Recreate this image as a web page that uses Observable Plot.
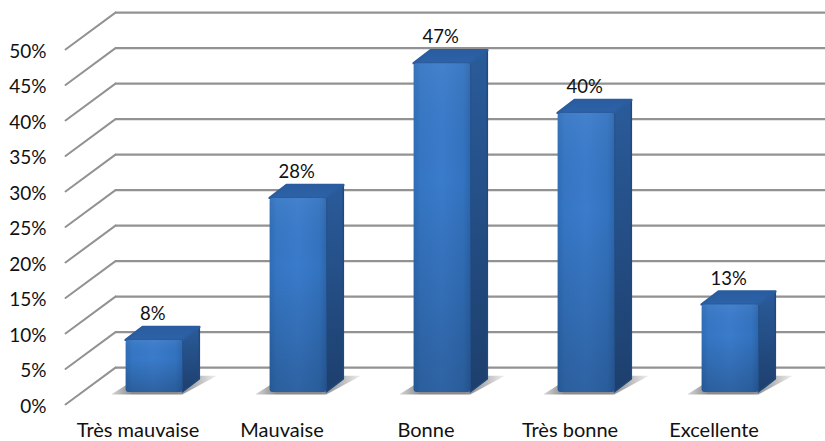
<!DOCTYPE html>
<html lang="fr">
<head>
<meta charset="utf-8">
<script src="https://cdn.jsdelivr.net/npm/d3@7"></script>
<script src="https://cdn.jsdelivr.net/npm/@observablehq/plot@0.6"></script>
<style>
html,body{margin:0;padding:0;background:#fff;overflow:hidden}
svg{display:block}
</style>
</head>
<body>
<div id="chart"></div>
<script>
const categories = ["Très mauvaise", "Mauvaise", "Bonne", "Très bonne", "Excellente"];
const values = [8, 28, 47, 40, 13];
const yTicks = [0, 5, 10, 15, 20, 25, 30, 35, 40, 45, 50];

// 3D projection expressed in scale units (x: category widths, y: percentage points)
const wallDx = 0.347, wallDy = 5.2, xEnd = 5.3;
const barCenter = 0.604, barHalf = 0.197, barDx = 0.118, barDy = 1.83;
const barBase = 1.69, barLift = 1;

const bars = values.map((v, i) => ({
  i, v, cat: categories[i],
  x1: i + barCenter - barHalf,
  x2: i + barCenter + barHalf,
  top: v + barLift
}));

const hLines = yTicks.map(v => ({y: v + wallDy}));
const diagonals = yTicks.flatMap(v => [
  {v, x: -2 / 144, y: v},
  {v, x: -2 / 144 + wallDx, y: v + wallDy}
]);
const sides = bars.flatMap(b => [
  {i: b.i, x: b.x2, y1: barBase, y2: b.top},
  {i: b.i, x: b.x2 + barDx, y1: barBase + barDy, y2: b.top + barDy}
]);
const tops = bars.flatMap(b => [
  {i: b.i, x: b.x1, y1: b.top, y2: b.top},
  {i: b.i, x: b.x1 + barDx, y1: b.top, y2: b.top + barDy},
  {i: b.i, x: b.x2, y1: b.top, y2: b.top + barDy},
  {i: b.i, x: b.x2 + barDx, y1: b.top + barDy, y2: b.top + barDy}
]);
const shadows = bars.flatMap(b => [
  {i: b.i, x: b.x1 - 0.1, y1: barBase - 0.35, y2: barBase - 0.35},
  {i: b.i, x: b.x1 + 0.02, y1: barBase - 0.35, y2: barBase + 1.2},
  {i: b.i, x: b.x2, y1: barBase - 0.35, y2: barBase + 2.3},
  {i: b.i, x: b.x2 + 0.24, y1: barBase + 2.3, y2: barBase + 2.3}
]);

const defs = () => {
  const s = d3.create("svg:defs");
  const grad = (id, x2, y2, stops) => {
    const g = s.append("linearGradient").attr("id", id)
      .attr("x1", 0).attr("y1", 0).attr("x2", x2).attr("y2", y2);
    stops.forEach(([o, c, a]) => g.append("stop").attr("offset", o)
      .attr("stop-color", c).attr("stop-opacity", a ?? 1));
  };
  grad("frontH", 1, 0, [[0, "#2f6cb6"], [0.12, "#3576c4"], [0.5, "#3a7bcb"], [0.88, "#3373c0"], [1, "#2c66ae"]]);
  grad("frontV", 0, 1, [[0, "#ffffff", 0.05], [0.35, "#000000", 0], [1, "#000000", 0.2]]);
  grad("side", 0, 1, [[0, "#2a5b9a"], [1, "#1d3f6d"]]);
  grad("top", 0, 1, [[0, "#2a5c9f"], [1, "#2d63a9"]]);
  grad("shadow", 1, 0, [[0, "#d8d8d8"], [0.2, "#8a8a8a"], [0.62, "#8a8a8a"], [0.8, "#b4b4b4"], [1, "#f2f2f2"]]);
  return s.node();
};

const font = "Lato, 'Open Sans', sans-serif";

const chart = Plot.plot({
  width: 825,
  height: 441,
  marginLeft: 65,
  marginRight: 0,
  marginTop: 0,
  marginBottom: 0,
  style: {background: "#fff", fontFamily: font, overflow: "hidden"},
  x: {type: "linear", domain: [0, 5], range: [67, 787], axis: null},
  y: {domain: [0, 50], range: [404, 49], axis: null},
  marks: [
    defs,
    Plot.ruleY(hLines, {y: "y", x1: -2 / 144 + wallDx, x2: xEnd, stroke: "#929292", strokeWidth: 2.2}),
    Plot.line(diagonals, {x: "x", y: "y", z: "v", stroke: "#929292", strokeWidth: 2}),
    Plot.areaY(shadows, {x: "x", y1: "y1", y2: "y2", z: "i", fill: "url(#shadow)", style: {filter: "blur(2px)"}}),
    Plot.areaY(sides, {x: "x", y1: "y1", y2: "y2", z: "i", fill: "url(#side)", stroke: "#22497d", strokeWidth: 1.5, strokeLinejoin: "round"}),
    Plot.areaY(tops, {x: "x", y1: "y1", y2: "y2", z: "i", fill: "url(#top)", stroke: "#2a5c9f", strokeWidth: 2.5, strokeLinejoin: "round"}),
    Plot.rect(bars, {x1: "x1", x2: "x2", y1: barBase, y2: "top", fill: "url(#frontH)", rx: 3}),
    Plot.rect(bars, {x1: "x1", x2: "x2", y1: barBase, y2: "top", fill: "url(#frontV)", rx: 3}),
    Plot.text(bars, {
      x: d => d.i + barCenter - 0.012,
      y: d => d.top + barDy + 1.85,
      text: d => d.v + "%",
      fontSize: 18.5, fill: "#111"
    }),
    Plot.axisY({
      ticks: yTicks, tickSize: 0, tickPadding: 19, dy: 2, label: null,
      tickFormat: d => d + "%", fontSize: 19, fill: "#111"
    }),
    Plot.text(bars, {
      x: d => d.i + 0.5,
      text: "cat",
      frameAnchor: "bottom", dx: -1.5, dy: -10.5, lineAnchor: "middle",
      fontSize: 20, fill: "#111"
    })
  ]
});
document.getElementById("chart").append(chart);
</script>
</body>
</html>
